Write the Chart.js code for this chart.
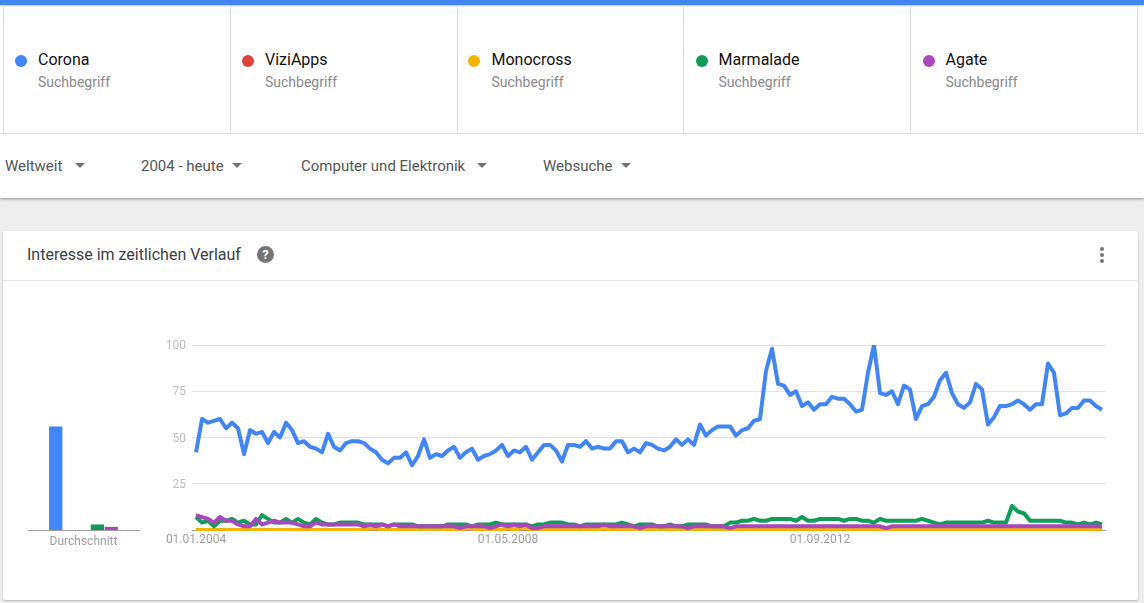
<!DOCTYPE html>
<html lang="de">
<head>
<meta charset="utf-8">
<title>Interesse im zeitlichen Verlauf</title>
<script src="https://cdn.jsdelivr.net/npm/chart.js@4"></script>
<style>
html,body{margin:0;padding:0;width:1144px;height:603px;overflow:hidden;background:#eeeeee;font-family:Roboto,sans-serif;}
.abs{position:absolute;white-space:nowrap;}
#head{position:absolute;left:0;top:0;width:1144px;height:198px;background:#fff;box-shadow:0 1px 3px rgba(0,0,0,.4);}
#bar{position:absolute;left:0;top:0;width:1144px;height:5px;background:#4285f4;box-shadow:0 1px 2px rgba(0,0,0,.25);}
.vline{position:absolute;top:5px;height:128px;width:1px;background:#dcdcdc;}
#hline{position:absolute;left:0;top:133px;width:1144px;height:1px;background:#e0e0e0;}
.dot{position:absolute;width:12px;height:12px;border-radius:50%;top:55px;}
.term{top:51px;font-size:16px;line-height:18px;color:#111;}
.sub{top:74px;font-size:14px;line-height:17px;color:#8a8a8a;}
.filter{top:157px;font-size:15px;line-height:18px;color:#555;}
.tri{position:absolute;top:163px;width:0;height:0;border-left:5px solid transparent;border-right:5px solid transparent;border-top:5.5px solid #757575;}
#card{position:absolute;left:3px;top:231px;width:1135px;height:369px;background:#fff;border-radius:2px;box-shadow:0 1px 2px rgba(0,0,0,.25);}
#cardline{position:absolute;left:3px;top:280px;width:1135px;height:1px;background:#e6e6e6;}
#title{left:27px;top:246px;font-size:16px;line-height:18px;color:#3c4043;}
#help{position:absolute;left:257px;top:246px;width:17px;height:17px;border-radius:50%;background:#757575;color:#fff;font-size:13px;font-weight:700;line-height:17px;text-align:center;}
.menu{position:absolute;left:1100px;width:4px;height:4px;border-radius:50%;background:#757575;}
#lineWrap{position:absolute;left:150px;top:330px;width:970px;height:230px;}
#barWrap{position:absolute;left:20px;top:330px;width:130px;height:230px;}
</style>
</head>
<body>
<div id="head"><div id="bar"></div><div id="hline"></div></div>
<div id="card"></div><div id="cardline"></div>
<div class="abs" id="title">Interesse im zeitlichen Verlauf</div>
<div id="help">?</div>
<div class="menu" style="top:247px"></div><div class="menu" style="top:253px"></div><div class="menu" style="top:259px"></div>
<div id="lineWrap"><canvas id="lineChart"></canvas></div>
<div id="barWrap"><canvas id="barChart"></canvas></div>
<script>
const terms = ["Corona","ViziApps","Monocross","Marmalade","Agate"];
const termKind = "Suchbegriff";
const colors = ["#4285f4","#db4437","#f4b400","#0f9d58","#ab47bc"];
const filters = ["Weltweit","2004 - heute","Computer und Elektronik","Websuche"];
const dateLabels = ["01.01.2004","01.05.2008","01.09.2012"];
const dateIndices = [0,52,104];
const yTicks = [0,25,50,75,100];
const avgLabel = "Durchschnitt";
const averages = [56,0,0,3,1.7];

const corona = [
42,60,58,59,60,55,58,55,41,54,
52,53,47,53,50,58,54,47,48,45,
44,42,52,45,43,47,48,48,47,44,
42,38,36,39,39,42,35,40,49,39,
41,40,43,45,39,42,44,38,40,41,
43,46,40,43,42,45,38,42,46,46,
43,37,46,46,45,48,44,45,44,44,
48,48,42,44,42,47,46,44,43,45,
49,46,49,46,57,51,54,56,56,56,
51,54,55,59,60,86,98,79,78,73,
75,67,69,65,68,68,72,71,71,68,
64,65,85,100,74,73,75,68,78,76,
60,67,68,72,81,85,74,68,66,69,
79,76,57,61,67,67,68,70,68,65,
68,68,90,85,62,63,66,66,70,70,
67,65];
const viziapps = [
0,0,0,0,0,0,0,0,0,0,0,0,0,0,0,0,0,0,0,0,0,0,0,0,0,0,0,0,0,1,1,0,0,0,0,0,0,0,
0,0,0,0,0,0,0,1,1,0,0,0,0,0,1,0,1,1,0,0,0,0,0,0,0,0,0,0,0,0,1,0,0,0,0,0,0,0,
0,0,0,0,0,0,0,0,0,0,0,0,0,0,0,0,0,0,0,0,0,0,0,0,0,0,0,0,0,0,0,0,0,0,0,0,0,0,
0,0,0,0,0,0,0,0,0,0,0,0,0,0,0,0,0,0,0,0,0,0,0,0,0,0,0,0,0,0,0,0,0,0,0,0,0,0];
const monocross = [
0,0,0,0,0,0,0,0,0,0,0,0,0,0,0,0,0,0,0,0,0,0,0,0,0,0,0,0,0,1,1,0,0,0,0,0,0,0,
0,0,0,0,0,0,0,1,1,0,0,0,0,0,1,0,1,1,0,0,0,0,0,0,0,0,0,0,0,0,1,0,0,0,0,0,0,0,
0,0,0,0,0,0,0,0,0,0,0,0,0,0,0,0,0,0,0,0,0,0,0,0,0,0,0,0,0,0,0,0,0,0,0,0,0,0,
0,0,0,0,0,0,0,0,0,0,0,0,0,0,0,0,0,0,0,0,0,0,0,0,0,0,0,0,0,0,0,0,0,0,0,0,0,0];
const marmalade = [
7,4,5,2,5,5,6,4,5,3,
3,8,6,4,4,6,4,6,4,3,
6,4,3,3,4,4,4,4,3,3,
3,3,2,3,3,3,3,2,2,2,
2,2,3,3,3,3,2,3,3,3,
4,3,3,3,3,3,2,3,3,4,
4,4,3,3,2,3,3,3,3,3,
3,4,3,2,3,3,3,2,2,3,
2,2,3,3,3,3,2,2,2,4,
4,5,5,6,5,5,6,6,6,6,
5,7,5,5,6,6,6,6,5,6,
6,5,5,4,6,5,5,5,5,5,
5,6,5,4,3,4,4,4,4,4,
4,4,5,4,4,4,13,10,9,5,
5,5,5,5,5,4,4,3,4,3,
4,3];
const agate = [
8,7,6,4,7,5,5,3,2,2,
6,3,4,5,4,4,4,3,2,2,
4,3,3,3,3,3,3,3,2,3,
2,3,2,3,2,2,2,2,2,2,
2,2,2,2,1,2,2,2,2,1,
2,3,2,3,2,3,1,1,2,2,
2,2,2,2,2,2,2,2,3,2,
2,2,2,2,1,2,2,2,2,2,
2,2,1,2,2,2,2,2,2,1,
2,2,2,2,2,2,2,2,2,2,
2,2,2,2,2,2,2,2,2,2,
2,2,2,2,2,1,2,2,2,2,
2,2,2,2,2,2,2,2,2,2,
2,2,2,2,2,2,2,2,2,2,
2,2,2,2,2,2,2,2,2,2,
2,2];
const series = [corona,viziapps,monocross,marmalade,agate];

/* page chrome */
const head = document.getElementById('head');
function add(parent, cls, text, style){
  const d = document.createElement('div');
  d.className = cls; if(text) d.textContent = text;
  Object.assign(d.style, style||{}); parent.appendChild(d); return d;
}
[3,230,457,683,910,1137].forEach(x=>add(head,'vline','',{left:x+'px'}));
const dotX=[15,242,468,695.5,922.5], textX=[38,265,491.5,718.5,945.5];
terms.forEach((t,i)=>{
  add(head,'dot','',{left:dotX[i]+'px',background:colors[i]});
  add(head,'abs term',t,{left:textX[i]+'px'});
  add(head,'abs sub',termKind,{left:textX[i]+'px'});
});
const fx=[5,141,301,543], tx=[75,232,477,621];
filters.forEach((f,i)=>{
  add(head,'abs filter',f,{left:fx[i]+'px'});
  add(head,'tri','',{left:tx[i]+'px'});
});

Chart.defaults.font.family = 'Roboto, sans-serif';
Chart.defaults.animation = false;

/* line chart */
const lineDatasets = series.map((vals,i)=>({
  label: terms[i],
  data: vals.map((v,k)=>({x:k,y:v})),
  borderColor: colors[i],
  backgroundColor: colors[i],
  borderWidth: 4,
  pointRadius: 0,
  tension: 0,
  borderJoinStyle: 'round',
  clip: {left:4,right:4,top:0,bottom:1}
}));
/* painter's order as in the reference: Agate over Marmalade over Monocross */
lineDatasets.forEach((d,i)=>{ d.order = lineDatasets.length - i; });
new Chart(document.getElementById('lineChart'),{
  type:'line',
  data:{datasets:lineDatasets},
  options:{
    responsive:true,maintainAspectRatio:false,
    layout:{padding:{top:15,right:14,bottom:0,left:0},autoPadding:false},
    plugins:{legend:{display:false},tooltip:{enabled:false}},
    scales:{
      x:{type:'linear',min:-0.67,max:151.67,
        afterBuildTicks(s){ s.ticks = dateIndices.map(v=>({value:v})); },
        afterFit(s){ s.height = 30; },
        ticks:{autoSkip:false,maxRotation:0,padding:3,color:'#9e9e9e',font:{size:12},
          callback:(v)=>dateLabels[dateIndices.indexOf(v)]},
        grid:{display:false,drawTicks:false},border:{display:false}},
      y:{min:0,max:100,
        afterBuildTicks(s){ s.ticks = yTicks.map(v=>({value:v})); },
        afterFit(s){ s.width = 42; },
        ticks:{padding:6,labelOffset:1,color:'#bdbdbd',font:{size:12},
          callback:(v)=>v===0?'':String(v)},
        grid:{drawTicks:false,lineWidth:1,color:c=>c.tick&&c.tick.value===0?'#9e9e9e':'#e3e3e3'},
        border:{display:false}}
    }
  }
});

/* average bars */
new Chart(document.getElementById('barChart'),{
  type:'bar',
  data:{labels:[avgLabel],datasets:terms.map((t,i)=>({
    label:t,data:[averages[i]],backgroundColor:colors[i],
    categoryPercentage:0.625,barPercentage:0.96
  }))},
  options:{
    responsive:true,maintainAspectRatio:false,
    layout:{padding:{top:15,right:11,bottom:0,left:8},autoPadding:false},
    plugins:{legend:{display:false},tooltip:{enabled:false}},
    scales:{
      x:{afterFit(s){ s.height = 30; },
        ticks:{padding:5,color:'#9e9e9e',font:{size:12},maxRotation:0},
        grid:{display:false,drawTicks:false},
        border:{display:true,color:'#9e9e9e',width:1}},
      y:{display:false,min:0,max:100}
    }
  }
});
</script>
</body>
</html>
